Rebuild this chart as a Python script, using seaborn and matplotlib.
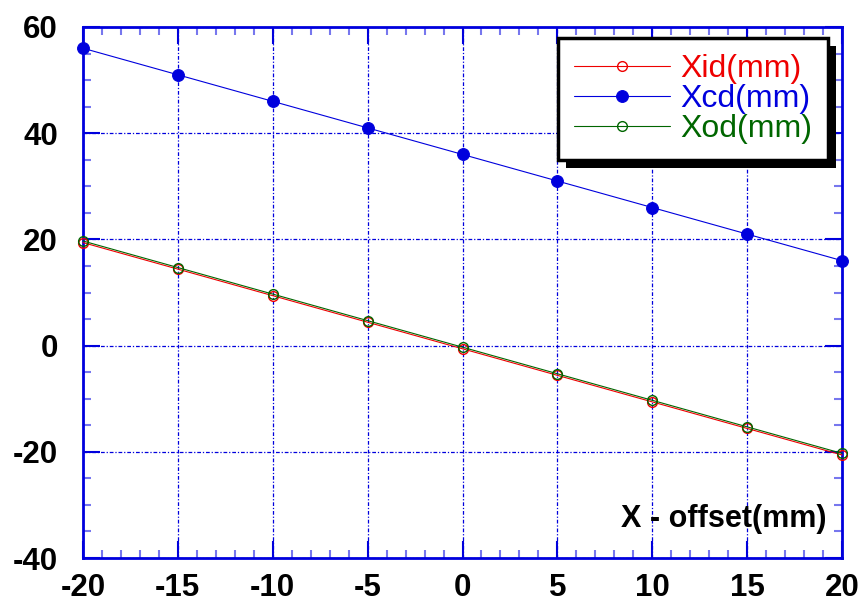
import numpy as np
import pandas as pd
import matplotlib
matplotlib.use("Agg")
import matplotlib.pyplot as plt
from matplotlib.ticker import MultipleLocator
from matplotlib.patches import Rectangle
from matplotlib.transforms import IdentityTransform
import seaborn as sns

# Offset sweep and the three measured positions
offset = [-20, -15, -10, -5, 0, 5, 10, 15, 20]
xid = [19.4, 14.4, 9.4, 4.4, -0.6, -5.6, -10.6, -15.6, -20.6]
xcd = [56, 51, 46, 41, 36, 31, 26, 21, 16]
xod = [19.7, 14.7, 9.7, 4.7, -0.3, -5.3, -10.3, -15.3, -20.3]
series_names = ["Xid(mm)", "Xcd(mm)", "Xod(mm)"]
x_label = "X - offset(mm)"

sns.set_theme(style="white")
plt.rcParams["font.family"] = ["Liberation Sans", "DejaVu Sans"]
plt.rcParams["axes.unicode_minus"] = False
plt.rcParams["text.color"] = "black"
plt.rcParams["xtick.labelcolor"] = "black"
plt.rcParams["ytick.labelcolor"] = "black"
plt.rcParams["axes.labelcolor"] = "black"

fig = plt.figure(figsize=(8.62, 6.07), dpi=100)
ax = fig.add_axes([83 / 862, 1 - 558 / 607, (842 - 83) / 862, (558 - 27) / 607])
ax.set_facecolor("white")

blue = "#0000dd"
red = "#ee0000"
green = "#006600"

sns.lineplot(x=offset, y=xid, ax=ax, color=red, lw=0.8, marker="o", ms=7,
             markerfacecolor="none", markeredgecolor=red, markeredgewidth=1.0,
             label=series_names[0], zorder=3, clip_on=False)
sns.lineplot(x=offset, y=xcd, ax=ax, color=blue, lw=0.8, marker="o", ms=8.5,
             markerfacecolor=blue, markeredgecolor=blue,
             label=series_names[1], zorder=3, clip_on=False)
sns.lineplot(x=offset, y=xod, ax=ax, color=green, lw=0.8, marker="o", ms=7,
             markerfacecolor="none", markeredgecolor=green, markeredgewidth=1.0,
             label=series_names[2], zorder=3, clip_on=False)

ax.set_xlim(-20, 20)
ax.set_ylim(-40, 60)
ax.xaxis.set_major_locator(MultipleLocator(5))
ax.xaxis.set_minor_locator(MultipleLocator(1))
ax.yaxis.set_major_locator(MultipleLocator(20))
ax.yaxis.set_minor_locator(MultipleLocator(5))

ax.grid(True, which="major", color=blue, lw=0.9, linestyle=(0, (3, 1.5, 1, 1.5)))
ax.set_axisbelow(True)

for s in ax.spines.values():
    s.set_visible(True)
    s.set_color(blue)
    s.set_linewidth(2)

ax.tick_params(which="both", direction="in", top=True, right=True,
               bottom=True, left=True, color=blue)
ax.tick_params(which="major", length=12, width=1.5)
ax.tick_params(which="minor", length=6, width=1.5, color="#7777ee")
ax.tick_params(axis="y", which="major", pad=18, labelsize=22.5, labelcolor="black")
ax.tick_params(axis="x", which="major", pad=11, labelsize=22.5, labelcolor="black")
for lab in ax.get_xticklabels() + ax.get_yticklabels():
    lab.set_fontweight("bold")

ax.set_xlabel(x_label, fontsize=22, fontweight="bold", ha="right", va="baseline",
              color="black")
ax.xaxis.set_label_coords(0.98, 0.058)
ax.set_ylabel("")

leg = ax.legend(loc="upper right", bbox_to_anchor=(0.9816, 0.979), borderaxespad=0,
                fontsize=23, frameon=True, fancybox=False, handlelength=3.0,
                handletextpad=0.33, labelspacing=0.0, borderpad=0.5,
                markerscale=1.0)
frame = leg.get_frame()
frame.set_edgecolor("black")
frame.set_linewidth(2.5)
frame.set_facecolor("white")
frame.set_alpha(1)
for txt, col in zip(leg.get_texts(), [red, blue, green]):
    txt.set_color(col)
leg.set_zorder(6)

# Drop shadow behind the legend box
fig.canvas.draw()
bb = leg.get_window_extent()
shadow = Rectangle((bb.x0 + 8, bb.y0 - 8), bb.width, bb.height,
                   transform=IdentityTransform(), facecolor="black",
                   edgecolor="none", zorder=5.5, clip_on=False)
ax.add_artist(shadow)

fig.savefig("out.png", dpi=100, facecolor="white")
